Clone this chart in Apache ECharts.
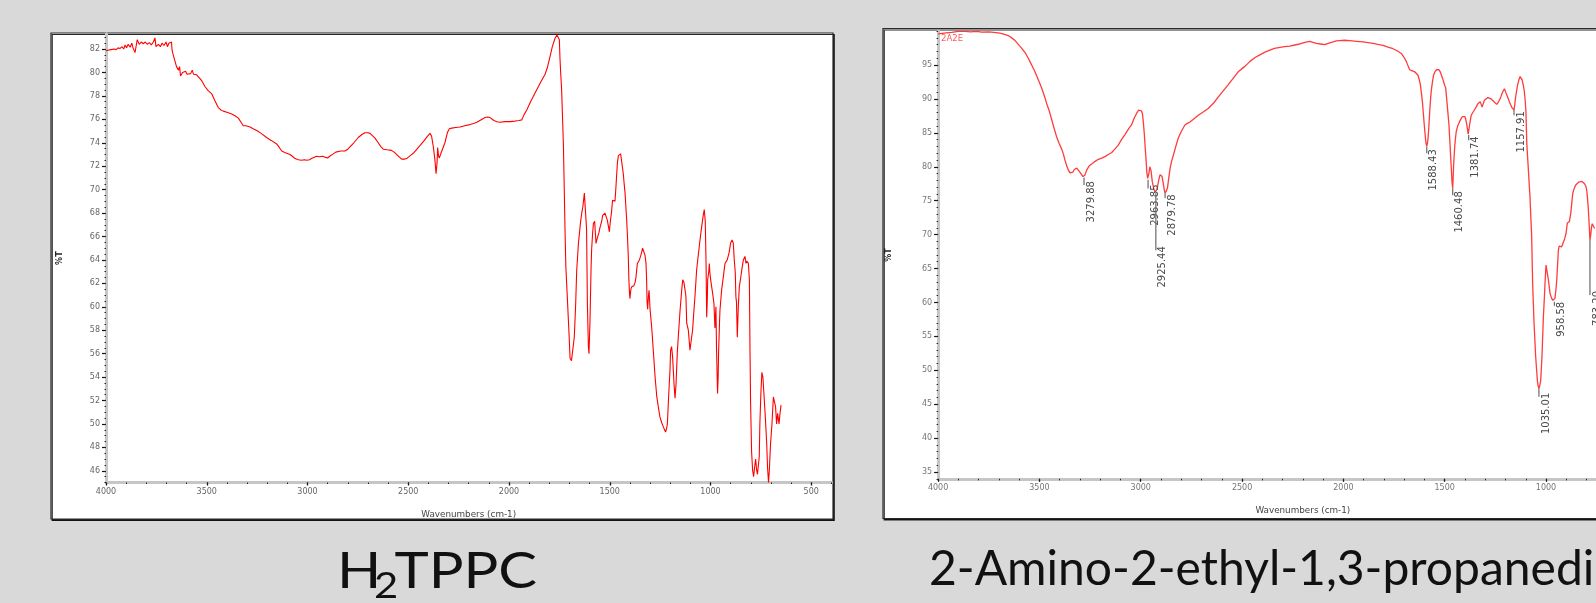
<!DOCTYPE html>
<html><head><meta charset="utf-8">
<script src="https://cdn.jsdelivr.net/npm/echarts@6/dist/echarts.min.js"></script>
<style>html,body{margin:0;padding:0;background:#d9d9d9;overflow:hidden}#c{width:1596px;height:603px;}</style>
</head><body><div id="c"></div>
<script>
// ---------- DATA ----------
// Left spectrum: H2TPPC  [wavenumber cm-1, %T]
const spectrumLeft = [
[4000,81.85],[3990,81.9],[3975,81.95],[3960,82.0],[3950,81.95],[3940,82.1],[3930,82.05],[3920,82.2],[3912,82.0],[3905,82.35],
[3898,82.1],[3890,82.4],[3880,82.15],[3872,82.5],[3866,82.1],[3856,81.7],[3850,82.3],[3845,82.8],[3835,82.4],[3825,82.6],
[3815,82.45],[3805,82.6],[3795,82.4],[3785,82.55],[3775,82.35],[3765,82.6],[3757,82.95],[3752,82.2],[3740,82.4],[3730,82.2],
[3722,82.5],[3712,82.3],[3702,82.6],[3695,82.2],[3688,82.5],[3680,82.4],[3675,82.6],[3672,81.9],[3668,81.6],[3660,81.5],
[3655,80.8],[3650,80.5],[3645,80.6],[3640,80.2],[3635,80.5],[3630,79.7],[3620,80.0],[3612,79.9],[3605,80.1],[3598,79.85],
[3590,80.0],[3580,79.9],[3572,80.2],[3566,79.85],[3560,79.95],[3550,79.8],[3542,79.7],[3525,79.3],[3509,78.8],[3493,78.45],
[3476,78.2],[3460,77.6],[3443,77.0],[3430,76.8],[3418,76.7],[3400,76.6],[3376,76.45],[3360,76.3],[3343,76.1],[3330,75.75],
[3319,75.45],[3305,75.45],[3285,75.35],[3270,75.2],[3252,75.05],[3230,74.8],[3203,74.45],[3180,74.2],[3153,73.9],[3140,73.6],
[3128,73.3],[3110,73.15],[3087,73.0],[3075,72.85],[3062,72.65],[3045,72.55],[3030,72.5],[3015,72.55],[3004,72.5],[2990,72.55],
[2980,72.65],[2971,72.75],[2955,72.85],[2940,72.8],[2925,72.85],[2910,72.75],[2900,72.7],[2890,72.85],[2872,73.05],[2860,73.2],
[2852,73.35],[2835,73.3],[2814,73.3],[2800,73.45],[2789,73.65],[2770,74.0],[2748,74.45],[2730,74.7],[2715,74.85],[2700,74.85],
[2690,74.8],[2682,74.75],[2665,74.4],[2649,74.0],[2635,73.65],[2624,73.45],[2605,73.4],[2583,73.35],[2570,73.2],[2558,73.0],
[2545,72.8],[2533,72.6],[2520,72.6],[2508,72.65],[2490,72.9],[2475,73.1],[2460,73.4],[2442,73.75],[2420,74.2],[2405,74.55],
[2392,74.8],[2384,74.55],[2376,73.7],[2368,72.6],[2362,71.35],[2357,72.3],[2354,73.6],[2350,72.9],[2346,72.7],[2340,73.0],
[2334,73.1],[2318,74.0],[2305,74.9],[2296,75.2],[2284,75.25],[2265,75.3],[2243,75.35],[2220,75.45],[2194,75.55],[2175,75.65],
[2160,75.75],[2140,75.95],[2119,76.15],[2105,76.2],[2094,76.15],[2075,75.9],[2060,75.8],[2045,75.75],[2020,75.8],[1995,75.8],
[1970,75.85],[1950,75.9],[1937,75.95],[1925,76.4],[1912,76.8],[1890,77.6],[1863,78.5],[1845,79.1],[1821,79.85],[1810,80.4],
[1797,81.3],[1785,82.2],[1772,82.9],[1762,83.2],[1755,83.3],[1750,82.8],[1747,81.2],[1743,79.8],[1739,78.6],[1735,76.5],
[1730,73.8],[1727,71.2],[1722,66.6],[1718,63.5],[1714,62.0],[1710,60.6],[1706,59.1],[1701,57.3],[1697,55.6],[1690,55.4],
[1681,55.4],[1676,57.4],[1672,59.0],[1669,60.3],[1664,63.1],[1655,65.5],[1645,67.2],[1639,68.0],[1633,68.6],[1626,69.7],
[1618,69.8],[1615,66.6],[1613,63.5],[1611,60.3],[1606,56.6],[1603,56.0],[1598,58.8],[1593,63.1],[1590,64.85],[1585,66.3],
[1581,67.1],[1575,67.3],[1573,67.2],[1568,65.4],[1563,65.8],[1560,65.9],[1554,66.3],[1548,66.8],[1540,67.3],[1535,67.8],
[1524,68.0],[1518,67.7],[1512,67.4],[1506,66.8],[1502,66.4],[1497,67.3],[1491,68.1],[1486,69.1],[1480,69.2],[1474,69.0],
[1469,70.3],[1462,72.3],[1457,72.9],[1453,73.05],[1446,73.05],[1441,73.0],[1433,71.4],[1428,70.4],[1424,69.7],[1416,67.4],
[1412,66.0],[1408,64.3],[1405,62.3],[1402,61.2],[1400,60.7],[1395,61.5],[1391,61.7],[1385,61.6],[1380,61.8],[1374,62.1],
[1370,62.5],[1363,63.7],[1353,64.0],[1347,64.3],[1341,64.7],[1337,65.0],[1330,64.85],[1325,64.4],[1320,63.7],[1317,62.3],
[1315,60.5],[1312,59.8],[1308,60.9],[1305,61.4],[1302,60.5],[1300,59.8],[1292,58.3],[1284,56.3],[1275,54.0],[1267,52.4],
[1259,51.45],[1251,50.6],[1242,50.1],[1234,49.75],[1228,49.5],[1223,49.3],[1218,49.6],[1214,50.0],[1208,52.3],[1201,54.6],
[1198,56.3],[1193,56.6],[1188,55.7],[1181,53.4],[1176,52.2],[1171,53.4],[1165,56.0],[1160,57.4],[1151,59.7],[1143,61.4],
[1138,62.3],[1132,62.1],[1127,61.5],[1122,60.9],[1118,58.6],[1110,58.0],[1102,56.3],[1097,56.2],[1089,58.0],[1083,59.5],
[1077,60.9],[1069,63.1],[1062,64.2],[1056,65.1],[1050,66.0],[1044,66.8],[1036,67.8],[1031,68.3],[1026,67.3],[1022,63.7],
[1019,59.1],[1016,60.5],[1014,62.3],[1008,63.1],[1006,63.7],[1003,62.9],[999,62.3],[995,61.8],[989,61.1],[983,60.3],
[978,58.2],[975,59.3],[973,60.0],[970,56.3],[965,52.6],[962,54.0],[960,56.0],[955,58.8],[953,59.7],[945,61.4],
[936,62.6],[928,63.7],[917,64.0],[908,64.6],[900,65.45],[893,65.7],[887,65.45],[882,64.0],[877,62.9],[874,60.85],
[871,60.4],[867,57.4],[864,59.0],[862,60.0],[857,61.7],[850,62.5],[845,63.1],[837,64.0],[829,64.3],[824,63.7],
[820,63.9],[817,64.0],[812,63.7],[807,62.3],[804,56.3],[801,51.8],[796,47.6],[791,46.05],[786,45.5],[781,46.3],
[776,47.0],[771,46.05],[767,45.7],[763,45.8],[758,47.2],[755,50.0],[750,52.6],[745,54.4],[740,54.0],[735,52.6],
[728,50.6],[721,48.3],[717,46.3],[712,45.0],[708,46.05],[702,48.3],[695,50.0],[688,52.3],[683,52.4],[677,51.45],
[672,50.0],[667,50.9],[660,50.0],[655,50.9],[650,51.6]
];

// Right spectrum: 2-Amino-2-ethyl-1,3-propanediol (2A2E)
const spectrumRight = [
[4000,99.6],[3991,99.6],[3960,99.75],[3933,99.8],[3900,99.95],[3867,99.95],[3840,99.9],[3810,99.95],[3785,99.85],[3750,99.9],
[3703,99.75],[3680,99.6],[3654,99.35],[3637,99.0],[3620,98.6],[3600,97.9],[3587,97.45],[3570,96.8],[3555,96.0],[3540,95.1],
[3522,94.0],[3505,92.8],[3489,91.6],[3475,90.4],[3464,89.3],[3450,88.1],[3439,86.9],[3427,85.6],[3415,84.4],[3402,83.4],
[3390,82.6],[3382,81.9],[3374,81.0],[3365,80.1],[3357,79.5],[3349,79.1],[3341,78.9],[3335,79.2],[3328,79.6],[3322,79.85],
[3316,79.8],[3310,79.6],[3305,79.4],[3298,79.1],[3292,78.9],[3285,78.55],[3279.88,78.4],[3275,78.8],[3267,79.5],[3255,80.1],
[3242,80.4],[3225,80.8],[3209,81.1],[3190,81.3],[3176,81.5],[3160,81.8],[3143,82.1],[3128,82.6],[3111,83.2],[3095,84.0],
[3078,84.75],[3060,85.6],[3045,86.2],[3032,87.2],[3020,87.9],[3010,88.35],[3004,88.5],[2997,88.25],[2992,87.9],[2987,86.5],
[2982,84.7],[2978,82.8],[2974,81.2],[2970,79.2],[2966,78.3],[2963.85,78.1],[2960,79.0],[2955,80.0],[2951,79.9],[2949,79.4],
[2943,77.8],[2936,76.8],[2930,76.3],[2925.44,76.1],[2921,76.6],[2916,77.3],[2910,78.2],[2905,78.8],[2899,79.0],[2895,78.6],
[2889,77.6],[2884,76.6],[2879.78,76.1],[2874,76.4],[2868,76.9],[2861,78.5],[2855,79.8],[2847,80.9],[2839,81.7],[2827,83.0],
[2815,84.2],[2800,85.2],[2782,86.15],[2770,86.4],[2757,86.6],[2740,87.0],[2716,87.6],[2690,88.1],[2667,88.6],[2640,89.4],
[2617,90.3],[2590,91.3],[2568,92.1],[2545,93.0],[2519,94.0],[2486,94.8],[2462,95.5],[2436,96.1],[2412,96.5],[2387,96.9],
[2363,97.2],[2340,97.45],[2313,97.6],[2290,97.7],[2264,97.8],[2240,97.95],[2215,98.1],[2190,98.35],[2165,98.5],[2150,98.35],
[2133,98.2],[2112,98.1],[2092,98.0],[2075,98.2],[2051,98.4],[2035,98.55],[2018,98.6],[1995,98.65],[1968,98.6],[1935,98.5],
[1903,98.4],[1878,98.3],[1853,98.2],[1830,98.05],[1804,97.9],[1780,97.65],[1755,97.4],[1735,97.1],[1714,96.7],[1700,96.1],
[1689,95.5],[1680,94.8],[1673,94.3],[1660,94.15],[1648,94.0],[1640,93.8],[1632,93.5],[1626,92.9],[1620,92.1],[1615,90.9],
[1610,89.6],[1606,88.1],[1602,86.6],[1598,85.2],[1594,83.9],[1591,83.3],[1588.43,83.0],[1585,83.5],[1582,84.2],[1578,86.0],
[1574,88.1],[1570,89.9],[1566,91.3],[1560,92.6],[1555,93.5],[1548,94.0],[1541,94.3],[1534,94.35],[1528,94.3],[1522,94.0],
[1517,93.8],[1511,93.1],[1505,92.5],[1500,92.0],[1495,91.6],[1489,89.6],[1484,87.9],[1479,86.2],[1475,84.0],[1471,81.7],
[1467,79.6],[1464,77.8],[1460.48,76.8],[1456,80.2],[1453,81.8],[1450,83.2],[1446,84.4],[1443,85.2],[1436,86.0],[1430,86.4],
[1424,86.8],[1419,87.1],[1412,87.4],[1405,87.6],[1401,87.4],[1397,87.1],[1394,86.7],[1391,86.2],[1387,85.4],[1384,84.8],
[1381.74,84.7],[1377,86.2],[1373,86.9],[1369,87.6],[1361,88.0],[1353,88.4],[1345,88.8],[1336,89.3],[1330,89.45],[1325,89.6],
[1320,89.2],[1315,88.8],[1310,89.3],[1304,89.8],[1296,90.0],[1287,90.2],[1279,90.15],[1271,90.0],[1263,89.8],[1254,89.5],
[1248,89.3],[1243,89.2],[1236,89.5],[1230,89.8],[1223,90.3],[1217,90.8],[1211,91.2],[1205,91.5],[1199,91.0],[1194,90.6],
[1187,90.1],[1181,89.6],[1174,89.1],[1168,88.7],[1162,88.45],[1157.91,88.4],[1154,89.2],[1151,90.1],[1145,91.2],[1140,92.1],
[1134,92.8],[1128,93.3],[1123,93.1],[1118,92.8],[1112,92.0],[1107,91.1],[1103,89.8],[1099,88.1],[1095,83.5],[1091,81.5],
[1087,79.5],[1082,77.0],[1079,75.5],[1075,72.5],[1071,70.0],[1066,62.8],[1059,56.9],[1051,52.0],[1043,48.6],[1039,47.7],
[1035.01,47.3],[1031,47.7],[1026,48.6],[1020,52.0],[1013,57.9],[1008,60.8],[1005,62.8],[1002,64.5],[1000,65.5],[997,65.6],
[993,65.3],[988,63.3],[980,61.3],[972,60.6],[966,60.3],[961,60.15],[958.58,60.1],[956,60.6],[951,61.9],[947,63.3],
[943,65.5],[939,67.7],[935,68.3],[931,68.5],[927,68.4],[923,68.2],[919,68.5],[915,68.7],[908,69.4],[901,70.2],
[895,71.7],[890,71.8],[885,71.9],[878,73.1],[873,74.6],[868,76.1],[862,76.7],[857,77.1],[851,77.4],[845,77.6],
[838,77.75],[832,77.8],[824,77.85],[816,77.8],[810,77.5],[803,77.1],[799,76.5],[796,75.6],[792,74.1],[789,72.6],
[786,70.9],[783.2,69.2],[780,69.8],[776,71.0],[772,71.6],[768,71.4],[760,70.9]
];

// Peak annotations on the right spectrum
const peakWn   = [3279.88, 2963.85, 2925.44, 2879.78, 1588.43, 1460.48, 1381.74, 1157.91, 1035.01, 958.58, 783.2];
const peakT    = [78.4, 78.1, 76.1, 76.1, 83.0, 76.8, 84.7, 88.4, 47.3, 60.1, 69.2];
const peakEnd  = [77.3, 76.8, 67.7, 75.35, 82.0, 75.8, 83.9, 87.6, 46.1, 59.5, 61.1];

// Tick labels
const xTicks = [4000, 3500, 3000, 2500, 2000, 1500, 1000, 500];
const yTicksLeft = [46,48,50,52,54,56,58,60,62,64,66,68,70,72,74,76,78,80,82];
const yTicksRight = [35,40,45,50,55,60,65,70,75,80,85,90,95];

const titleLeftMain = 'H', titleLeftSub = '2', titleLeftTail = 'TPPC';
const titleRight = '2-Amino-2-ethyl-1,3-propanediol';
const sampleTag = '2A2E';

// ---------- CHART ----------
function range(a, b, s) { const r = []; for (let v = a; v <= b + 1e-9; v += s) r.push(+v.toFixed(3)); return r; }
const xMinor = range(400, 4000, 100);
const yMinorLeft = range(45, 83, 0.5);
const yMinorRight = range(34, 100, 1);

const tickFont = { fontFamily: 'DejaVu Sans', fontSize: 8 };

function xAxes(grid, labelColor, nameGap) {
  return [
    { gridIndex: grid, type: 'value', inverse: true, min: 400, max: 4000, position: 'bottom', z: 5,
      axisLine: { onZero: false, lineStyle: { color: '#c6c6c6', width: 3 } },
      axisTick: { customValues: xTicks, length: 3, lineStyle: { color: '#111', width: 1.3 } },
      axisLabel: { customValues: xTicks, formatter: v => String(v), color: labelColor, margin: 5, ...tickFont },
      splitLine: { show: false },
      name: 'Wavenumbers (cm-1)', nameLocation: 'middle', nameGap: nameGap,
      nameTextStyle: { fontFamily: 'DejaVu Sans', fontSize: 8.8, color: '#444' } },
    { gridIndex: grid, type: 'value', inverse: true, min: 400, max: 4000, position: 'bottom', z: 5,
      axisLine: { show: false },
      axisTick: { customValues: xMinor, length: 1.5, lineStyle: { color: '#222', width: 1 } },
      axisLabel: { show: false }, splitLine: { show: false } }
  ];
}
function yAxes(grid, min, max, ticks, minor, labelColor, nameGap) {
  return [
    { gridIndex: grid, type: 'value', min: min, max: max, position: 'left', z: 5,
      axisLine: { onZero: false, lineStyle: { color: '#c6c6c6', width: 3 } },
      axisTick: { customValues: ticks, length: 4, lineStyle: { color: '#111', width: 1.2 } },
      axisLabel: { customValues: ticks, formatter: v => String(v), color: labelColor, margin: 6, ...tickFont },
      splitLine: { show: false },
      name: '%T', nameLocation: 'middle', nameGap: nameGap, nameRotate: 90,
      nameTextStyle: { fontFamily: 'DejaVu Sans', fontSize: 8, fontWeight: 'bold', color: '#222' } },
    { gridIndex: grid, type: 'value', min: min, max: max, position: 'left', z: 5,
      axisLine: { show: false },
      axisTick: { customValues: minor, length: 1.5, lineStyle: { color: '#222', width: 1 } },
      axisLabel: { show: false }, splitLine: { show: false } }
  ];
}

const chart = echarts.init(document.getElementById('c'), null, { renderer: 'canvas', width: 1596, height: 603 });

const option = {
  animation: false,
  backgroundColor: '#d9d9d9',
  grid: [
    { left: 106, top: 33.8, width: 725.4, height: 448.7, containLabel: false, outerBoundsMode: 'none' },
    { left: 938.1, top: 31.1, width: 729.5, height: 447.7, containLabel: false, outerBoundsMode: 'none' }
  ],
  xAxis: [...xAxes(0, '#666', 28), ...xAxes(1, '#777', 27.5)],
  yAxis: [...yAxes(0, 45, 83.3, yTicksLeft, yMinorLeft, '#666', 42),
          ...yAxes(1, 34, 100, yTicksRight, yMinorRight, '#777', 45)],
  series: [
    { type: 'line', xAxisIndex: 0, yAxisIndex: 0, data: spectrumLeft, showSymbol: false, symbol: 'none',
      lineStyle: { color: '#ff0000', width: 1.1 }, clip: true, z: 6, silent: true },
    { type: 'line', xAxisIndex: 2, yAxisIndex: 2, data: spectrumRight, showSymbol: false, symbol: 'none',
      lineStyle: { color: '#ff3b3b', width: 1.3 }, clip: true, z: 6, silent: true },
    { type: 'custom', xAxisIndex: 2, yAxisIndex: 2, z: 7, silent: true,
      data: peakWn.map((w, i) => [w, peakT[i], peakEnd[i]]),
      renderItem: function (params, api) {
        const p0 = api.coord([api.value(0), api.value(1)]);
        const p1 = api.coord([api.value(0), api.value(2)]);
        const txt = peakWn[params.dataIndex].toFixed(2);
        return { type: 'group', children: [
          { type: 'line', shape: { x1: p0[0], y1: p0[1], x2: p1[0], y2: p1[1] },
            style: { stroke: '#6a6a6a', lineWidth: 1.2 } },
          { type: 'text', x: p1[0] + 7, y: p1[1] - 4, rotation: Math.PI / 2,
            style: { text: txt, fontFamily: 'DejaVu Sans', fontSize: 10, fill: '#4a4a4a',
                     align: 'right', verticalAlign: 'middle' } }
        ]};
      } }
  ],
  graphic: [
    { type: 'rect', z: 1, shape: { x: 51, y: 33, width: 782, height: 486 },
      style: { fill: '#ffffff', stroke: '#2a2a2a', lineWidth: 1.2,
               shadowColor: 'rgba(0,0,0,0.85)', shadowOffsetX: 1.2, shadowOffsetY: 1.5, shadowBlur: 0 } },
    { type: 'rect', z: 1, shape: { x: 883, y: 28.5, width: 800, height: 490 },
      style: { fill: '#ffffff', stroke: '#2a2a2a', lineWidth: 1.2,
               shadowColor: 'rgba(0,0,0,0.85)', shadowOffsetX: 1.2, shadowOffsetY: 1.5, shadowBlur: 0 } },
    { type: 'text', z: 10, x: 941, y: 39,
      style: { text: sampleTag, fontFamily: 'DejaVu Sans', fontSize: 8.5, fill: '#ff5a5a', align: 'left', verticalAlign: 'middle' } },
    { type: 'group', z: 10, x: 337, y: 0, scaleX: 1.16, children: [
      { type: 'text', z: 10, x: 0, y: 571.6,
        style: { text: titleLeftMain, fontFamily: 'Lato', fontSize: 50, fill: '#111', align: 'left', verticalAlign: 'middle' } },
      { type: 'text', z: 10, x: 32, y: 586,
        style: { text: titleLeftSub, fontFamily: 'Lato', fontSize: 36, fill: '#111', align: 'left', verticalAlign: 'middle' } },
      { type: 'text', z: 10, x: 49.5, y: 571.6,
        style: { text: titleLeftTail, fontFamily: 'Lato', fontSize: 50, fill: '#111', align: 'left', verticalAlign: 'middle' } }
    ] },
    { type: 'text', z: 10, x: 929, y: 570,
      style: { text: titleRight, fontFamily: 'Lato', fontSize: 48, fill: '#111', align: 'left', verticalAlign: 'middle' } }
  ]
};
chart.setOption(option);
</script></body></html>
